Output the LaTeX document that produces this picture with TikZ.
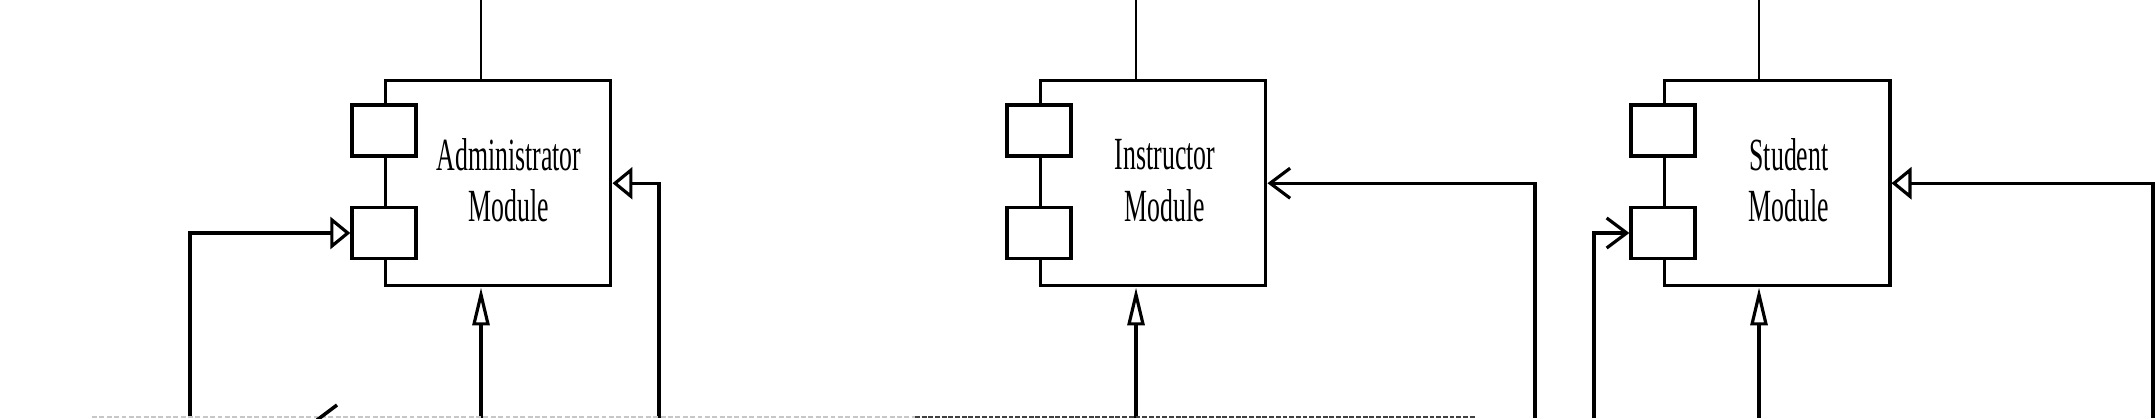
\documentclass[tikz,border=0pt]{standalone}
\usepackage{fontspec}
\newfontfamily\cond[FakeStretch=0.56]{Liberation Serif}
\usetikzlibrary{arrows.meta,calc}
\begin{document}
\begin{tikzpicture}[x=0.01cm,y=-0.01cm,
  modbox/.style={draw,line width=0.95pt,minimum width=2.25cm,minimum height=2.05cm,inner sep=0pt,anchor=north west},
  port/.style={draw,fill=white,line width=0.95pt,minimum width=0.64cm,minimum height=0.51cm,inner sep=0pt},
  lbl/.style={align=center,inner sep=0pt,font=\cond\fontsize{13.1pt}{14.6pt}\selectfont},
  conn/.style={line width=0.9pt},
  topln/.style={line width=0.7pt},
  triH/.style={-{Triangle[open,length=0.2cm,width=0.32cm]}},
  triV/.style={-{Triangle[open,length=0.38cm,width=0.17cm]}},
  barb/.style={-{Straight Barb[length=0.2cm,width=0.3cm]}},
  lightdash/.style={draw=black!22,line width=0.6pt,dash pattern=on 1.4pt off 0.7pt},
  darkdash/.style={draw=black!75,line width=0.6pt,dash pattern=on 1.4pt off 0.5pt},
]
\useasboundingbox (0,0) rectangle (2155,418);

% ---- modules
\node[modbox] (admin) at (384,79) {};
\node[modbox] (inst) at (1039,79) {};
\node[modbox] (stud) at (1663,79) {};

\node[port] (ap1) at (384,130.5) {};
\node[port] (ap2) at (384,233) {};
\node[port] (ip1) at (1039,130.5) {};
\node[port] (ip2) at (1039,233) {};
\node[port] (sp1) at (1663,130.5) {};
\node[port] (sp2) at (1663,233) {};

\node[lbl] (at) at (509,180.5) {Administrator\\Module};
\node[lbl] (it) at (1165,180.5) {Instructor\\Module};
\node[lbl] (st) at (1789,180.5) {Student\\Module};

% ---- coordinates
\coordinate (ac) at (481,0);
\coordinate (ic) at (1136,0);
\coordinate (sc) at (1759,0);
\coordinate (b1) at (190,418);
\coordinate (b3) at (659,418);
\coordinate (b4) at (1535,418);
\coordinate (b5) at (1594,418);
\coordinate (b6) at (2153,418);

% ---- top lines
\draw[topln] (ac) -- (ac |- admin.north);
\draw[topln] (ic) -- (ic |- inst.north);
\draw[topln] (sc) -- (sc |- stud.north);

% ---- connectors
\draw[conn,triH] (b1) |- (ap2.west);
\draw[conn,triV] (ac |- b1) -- (ac |- admin.south);
\draw[conn,triH] (b3) |- (admin.east);

\draw[conn,triV] (ic |- b1) -- (ic |- inst.south);
\draw[conn,barb] (b4) |- (inst.east);

\draw[conn,barb] (b5) |- (sp2.west);
\draw[conn,triV] (sc |- b1) -- (sc |- stud.south);
\draw[conn,triH] (b6) |- (stud.east);

% ---- bottom boundary
\coordinate (d0) at (92,417);
\coordinate (d1) at (915,417);
\coordinate (d2) at (1475,417);
\draw[lightdash] (d0) -- (d1);
\draw[darkdash] (d1) -- (d2);
\coordinate (s0) at (317,420);
\coordinate (s1) at (337,405);
\draw[line width=1pt] (s0) -- (s1);
\end{tikzpicture}
\end{document}
